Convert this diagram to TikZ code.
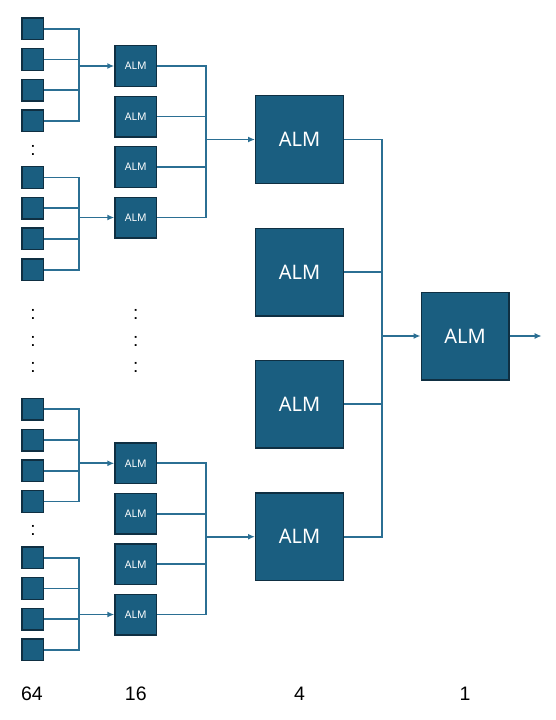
\documentclass[tikz,border=0pt]{standalone}
\usepackage{fontspec}
\setmainfont{Liberation Sans}
\newfontfamily\almfont{Noto Sans}
\usetikzlibrary{arrows.meta,positioning}

\definecolor{almfill}{HTML}{1A5E80}
\definecolor{almedge}{HTML}{0F2F42}
\definecolor{wirecol}{HTML}{2B6F93}

\tikzset{
  cell/.style={draw=almedge,fill=almfill,line width=1.4pt,inner sep=0pt},
  leaf/.style={cell,minimum width=21.6pt,minimum height=21.6pt},
  alm small/.style={cell,minimum width=41.6pt,minimum height=40.6pt,text=white,font=\almfont\fontsize{10.5}{12}\selectfont},
  alm big/.style={cell,minimum width=87.6pt,minimum height=87.6pt,text=white,font=\almfont\fontsize{20}{24}\selectfont},
  wire/.style={draw=wirecol,line width=1.8pt},
  feed/.style={wire,-{Latex[length=7pt,width=6pt]}},
  gap/.style={inner sep=0pt,font=\fontsize{19}{22}\selectfont},
  count/.style={inner sep=0pt,anchor=base,font=\fontsize{19.5}{22}\selectfont},
}

\begin{document}
\begin{tikzpicture}[x=1pt,y=-1pt]
    \useasboundingbox (0,0) rectangle (556,720);

    \coordinate (colL) at (79.3,0);
    \coordinate (colM) at (206.3,0);
    \coordinate (colR) at (382,0);

    % 64 inputs, four groups shown
    \foreach \g/\top in {1/28.8,2/177.5,3/409.3,4/557.8}{
        \foreach \i in {1,...,4}{
            \node[leaf] (leaf\g-\i) at (32.7,{\top+30.7*(\i-1)}) {};
        }
    }

    % 16 ALMs, eight shown
    \foreach \k/\y in {1/66,2/116.5,3/167,4/217.5,5/463.3,6/513.8,7/564.3,8/614.5}{
        \node[alm small] (almA\k) at (135.8,\y) {ALM};
    }

    % 4 ALMs
    \foreach \k/\y in {1/139.5,2/272,3/404.2,4/536.7}{
        \node[alm big] (almB\k) at (299.5,\y) {ALM};
    }

    % last ALM
    \node[alm big] (almC) at (465,336) {ALM};
    \coordinate (out) at (541.7,336);

    % inputs -> 16
    \foreach \g/\k in {1/1,2/4,3/5,4/8}{
        \draw[wire] (leaf\g-1.east) -| (leaf\g-4.east -| colL) -- (leaf\g-4.east);
        \draw[wire] (leaf\g-2.east) -- (leaf\g-2.east -| colL);
        \draw[wire] (leaf\g-3.east) -- (leaf\g-3.east -| colL);
        \draw[feed] (almA\k.west -| colL) -- (almA\k.west);
    }

    % 16 -> 4
    \foreach \first/\last/\t in {1/4/1,5/8/4}{
        \draw[wire] (almA\first.east) -| (almA\last.east -| colM) -- (almA\last.east);
        \draw[feed] (almB\t.west -| colM) -- (almB\t.west);
    }
    \foreach \k in {2,3,6,7}{
        \draw[wire] (almA\k.east) -- (almA\k.east -| colM);
    }

    % 4 -> 1
    \draw[wire] (almB1.east) -| (almB4.east -| colR) -- (almB4.east);
    \foreach \k in {2,3}{
        \draw[wire] (almB\k.east) -- (almB\k.east -| colR);
    }
    \draw[feed] (almC.west -| colR) -- (almC.west);
    \draw[feed] (almC.east) -- (out);

    % elided rows
    \node[gap] (gapA) at (33,150) {:};
    \node[gap] (gapB) at (33,530) {:};
    \foreach \n/\y in {1/314,2/341,3/367}{
        \node[gap] (gapL\n) at (33,\y) {:};
        \node[gap] (gapM\n) at (135.8,\y) {:};
    }

    % counts per level
    \node[count] (cnt64) at (32,700.7) {64};
    \node[count] (cnt16) at (135.8,700.7) {16};
    \node[count] (cnt4) at (299.5,700.7) {4};
    \node[count] (cnt1) at (465,700.7) {1};
\end{tikzpicture}
\end{document}
